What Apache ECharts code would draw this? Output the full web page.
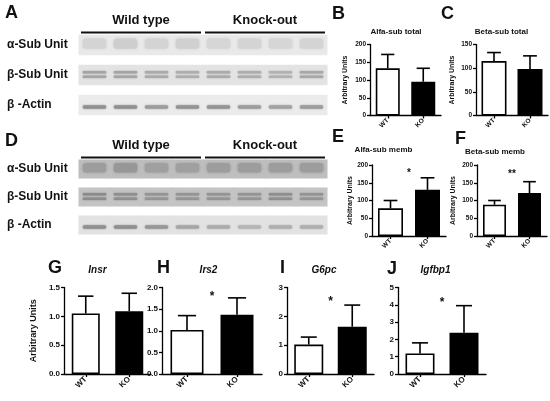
<!DOCTYPE html>
<html><head><meta charset="utf-8">
<script src="https://cdn.jsdelivr.net/npm/echarts@6/dist/echarts.min.js"></script>
<style>html,body{margin:0;padding:0;background:#fff}#c{width:550px;height:401px}</style>
</head><body><div id="c"></div>
<script>
// ---------- data ----------
const groups = ['WT', 'KO'];
const alfaTotalMean = [133, 95];   const alfaTotalSD = [39, 38];
const betaTotalMean = [115, 98];   const betaTotalSD = [18, 28];
const alfaMembMean = [78, 130];    const alfaMembSD = [22, 34];
const betaMembMean = [88, 121];    const betaMembSD = [12, 32];
const insrMean = [1.05, 1.09];     const insrSD = [0.30, 0.31];
const irs2Mean = [1.02, 1.37];     const irs2SD = [0.33, 0.39];
const g6pcMean = [1.02, 1.64];     const g6pcSD = [0.26, 0.75];
const igfbp1Mean = [1.19, 2.38];   const igfbp1SD = [0.61, 1.57];
const starE = 184, starF = 180, starH = 1.84, starI = 2.61, starJ = 4.27;

const lanes = ['1', '2', '3', '4', '5', '6', '7', '8'];
const blotRows = ['α-Sub Unit', 'β-Sub Unit', 'β -Actin'];
const blotGroups = ['Wild type', 'Knock-out'];
const groupFirstLane = [0, 4];
const groupLastLane = [3, 7];
// band darkness per lane (0 = invisible, 1 = black)
const blotA_alpha = [0.14, 0.18, 0.14, 0.17, 0.13, 0.14, 0.13, 0.14];
const blotA_beta  = [0.42, 0.42, 0.38, 0.36, 0.38, 0.36, 0.33, 0.40];
const blotA_actin = [0.60, 0.60, 0.52, 0.58, 0.58, 0.52, 0.48, 0.52];
const blotD_alpha = [0.22, 0.26, 0.20, 0.20, 0.22, 0.22, 0.22, 0.22];
const blotD_beta  = [0.38, 0.36, 0.32, 0.32, 0.33, 0.32, 0.36, 0.32];
const blotD_actin = [0.55, 0.55, 0.50, 0.40, 0.36, 0.30, 0.34, 0.34];

// ---------- build ----------
const FONT = "'Liberation Sans', Arial, sans-serif";
const grids = [], xAxes = [], yAxes = [], series = [];
function gray(v) { v = Math.max(0, Math.min(255, Math.round(v))); const h = v.toString(16).padStart(2, '0'); return '#' + h + h + h; }

function addBlot(left, top, width, height, rows, bgs) {
  const gi = grids.length;
  grids.push({ left, top, width, height, outerBoundsMode: 'none' });
  xAxes.push({ type: 'category', gridIndex: gi, data: lanes, show: false });
  yAxes.push({ type: 'category', gridIndex: gi, data: blotRows, inverse: true,
    axisLine: { show: false }, axisTick: { show: false }, splitLine: { show: false },
    axisLabel: { align: 'left', margin: left - 7, fontSize: 12, fontWeight: 'bold', color: '#111', fontFamily: FONT } });
  const data = [];
  rows.forEach((arr, r) => arr.forEach((v, l) => data.push([l, r, v])));
  series.push({
    type: 'custom', xAxisIndex: gi, yAxisIndex: gi, data, silent: true,
    renderItem(params, api) {
      const l = api.value(0), r = api.value(1), v = api.value(2);
      const c = api.coord([l, r]);
      const lw = api.size([1, 0])[0], rh = api.size([0, 1])[1];
      const sh = rh * 0.68;
      const bg = bgs[r];
      const bc = gray(bg - v * 150);
      const bw = lw * 0.76;
      const ch = [{ type: 'rect', shape: { x: c[0] - lw / 2 - 0.5, y: c[1] - sh / 2, width: lw + 1, height: sh }, style: { fill: gray(bg) } }];
      if (r === 0) {
        ch.push({ type: 'rect', shape: { x: c[0] - bw / 2, y: c[1] - sh * 0.32, width: bw, height: sh * 0.5, r: 3 }, style: { fill: bc, shadowBlur: 3, shadowColor: bc } });
      } else if (r === 1) {
        ch.push({ type: 'rect', shape: { x: c[0] - bw / 2, y: c[1] - 4, width: bw, height: 2.6, r: 1 }, style: { fill: bc, shadowBlur: 2, shadowColor: bc } });
        ch.push({ type: 'rect', shape: { x: c[0] - bw / 2, y: c[1] + 0.5, width: bw, height: 2.6, r: 1 }, style: { fill: bc, shadowBlur: 2, shadowColor: bc } });
      } else {
        ch.push({ type: 'rect', shape: { x: c[0] - bw / 2, y: c[1] + 0.3, width: bw, height: 3.4, r: 1.7 }, style: { fill: bc, shadowBlur: 2, shadowColor: bc } });
      }
      return { type: 'group', children: ch };
    }
  });
  series.push({
    type: 'custom', xAxisIndex: gi, yAxisIndex: gi, silent: true,
    data: blotGroups.map((g, i) => [groupFirstLane[i], groupLastLane[i]]),
    renderItem(params, api) {
      const a = api.coord([api.value(0), 0]), b = api.coord([api.value(1), 0]);
      const lw = api.size([1, 0])[0];
      const y0 = params.coordSys.y;
      const x1 = a[0] - lw / 2 + 2, x2 = b[0] + lw / 2 - 2;
      return { type: 'group', children: [
        { type: 'line', shape: { x1, y1: y0 + 2.5, x2, y2: y0 + 2.5 }, style: { stroke: '#111', lineWidth: 1.8 } },
        { type: 'text', style: { x: (a[0] + b[0]) / 2, y: y0 - 10, text: blotGroups[params.dataIndex], align: 'center', verticalAlign: 'middle', font: 'bold 13px ' + FONT, fill: '#111' } }
      ] };
    }
  });
}

function addBar(cfg) {
  const gi = grids.length;
  grids.push({ left: cfg.left, top: cfg.top, width: cfg.width, height: cfg.height, outerBoundsMode: 'none' });
  const axLine = { color: '#000', width: 1.3 };
  xAxes.push({ type: 'category', gridIndex: gi, data: groups,
    axisLine: { lineStyle: axLine }, axisTick: { show: true, alignWithLabel: true, length: 3, lineStyle: axLine },
    axisLabel: { rotate: 45, fontSize: cfg.xFont, fontWeight: 'bold', color: '#111', margin: 4, fontFamily: FONT } });
  yAxes.push({ type: 'value', gridIndex: gi, min: 0, max: cfg.max, interval: cfg.interval,
    axisLine: { show: true, lineStyle: axLine }, axisTick: { show: true, length: 3, lineStyle: axLine },
    splitLine: { show: false },
    axisLabel: { fontSize: cfg.tickFont, fontWeight: 'bold', color: '#111', margin: 4, fontFamily: FONT, formatter: cfg.fmt },
    name: cfg.yName || '', nameLocation: 'middle', nameGap: cfg.nameGap || 20, nameRotate: 90,
    nameTextStyle: { fontSize: cfg.nameFont || 8, fontWeight: 'bold', color: '#111', fontFamily: FONT } });
  const fills = ['#ffffff', '#000000'];
  series.push({ type: 'bar', xAxisIndex: gi, yAxisIndex: gi, barWidth: cfg.barWidth, silent: true,
    data: cfg.mean.map((v, i) => ({ value: v, itemStyle: { color: fills[i], borderColor: '#000', borderWidth: 1.6 } })) });
  const bw = cfg.barWidth;
  series.push({ type: 'custom', xAxisIndex: gi, yAxisIndex: gi, silent: true, z: 5,
    data: cfg.mean.map((v, i) => [i, v, cfg.sd[i]]),
    renderItem(params, api) {
      const i = api.value(0), m = api.value(1), s = api.value(2);
      const p0 = api.coord([i, m]), p1 = api.coord([i, m + s]);
      const cw = bw * 0.55;
      return { type: 'group', children: [
        { type: 'line', shape: { x1: p0[0], y1: p0[1], x2: p1[0], y2: p1[1] }, style: { stroke: '#000', lineWidth: 1.6 } },
        { type: 'line', shape: { x1: p1[0] - cw / 2, y1: p1[1], x2: p1[0] + cw / 2, y2: p1[1] }, style: { stroke: '#000', lineWidth: 1.6 } }
      ] };
    } });
  if (cfg.star) {
    series.push({ type: 'custom', xAxisIndex: gi, yAxisIndex: gi, silent: true, z: 5,
      data: [[0, cfg.starValue]],
      renderItem(params, api) {
        const v = api.value(1);
        const a = api.coord([0, v]), b = api.coord([1, v]);
        return { type: 'text', style: { x: (a[0] + b[0]) / 2, y: a[1] + cfg.starFont * 0.22, text: cfg.star, align: 'center', verticalAlign: 'middle', font: 'bold ' + cfg.starFont + 'px ' + FONT, fill: '#111' } };
      } });
  }
}

addBlot(79, 30, 248, 90, [blotA_alpha, blotA_beta, blotA_actin], [233, 227, 235]);
addBlot(79, 155, 248, 84, [blotD_alpha, blotD_beta, blotD_actin], [190, 196, 226]);

const small = { tickFont: 6.5, xFont: 6.5, nameFont: 7, height: 71 };
addBar(Object.assign({}, small, { left: 370, top: 44.5, width: 71, barWidth: 24, mean: alfaTotalMean, sd: alfaTotalSD, max: 200, interval: 50, yName: 'Arbitrary Units', nameGap: 21 }));
addBar(Object.assign({}, small, { left: 476, top: 44.5, width: 72, barWidth: 25, mean: betaTotalMean, sd: betaTotalSD, max: 150, interval: 50, yName: 'Arbitrary Units', nameGap: 20 }));
addBar(Object.assign({}, small, { left: 372, top: 165, width: 74, barWidth: 25, mean: alfaMembMean, sd: alfaMembSD, max: 200, interval: 50, yName: 'Arbitrary Units', nameGap: 17, star: '*', starValue: starE, starFont: 10 }));
addBar(Object.assign({}, small, { left: 477, top: 165, width: 70, barWidth: 23, mean: betaMembMean, sd: betaMembSD, max: 200, interval: 50, yName: 'Arbitrary Units', nameGap: 20, star: '**', starValue: starF, starFont: 10 }));
const big = { tickFont: 8, xFont: 8, top: 287.5, height: 86.5, fmt: v => v.toFixed(1) };
addBar(Object.assign({}, big, { left: 64, width: 87, barWidth: 28, mean: insrMean, sd: insrSD, max: 1.5, interval: 0.5, yName: 'Arbitrary Units', nameGap: 26, nameFont: 9 }));
addBar(Object.assign({}, big, { left: 162, width: 100, barWidth: 33, mean: irs2Mean, sd: irs2SD, max: 2, interval: 0.5, star: '*', starValue: starH, starFont: 12 }));
addBar(Object.assign({}, big, { left: 287, width: 87, barWidth: 29, mean: g6pcMean, sd: g6pcSD, max: 3, interval: 1, fmt: v => String(v), star: '*', starValue: starI, starFont: 12 }));
addBar(Object.assign({}, big, { left: 398, width: 88, barWidth: 29, mean: igfbp1Mean, sd: igfbp1SD, max: 5, interval: 1, fmt: v => String(v), star: '*', starValue: starJ, starFont: 12 }));

function txt(x, y, text, font, align) {
  return { type: 'text', x, y, silent: true, style: { text, font: font + ' ' + FONT, fill: '#111', align: align || 'left', verticalAlign: 'middle' } };
}
const graphic = [
  txt(5, 13.5, 'A', 'bold 18px'), txt(332, 14, 'B', 'bold 18px'), txt(441, 14, 'C', 'bold 18px'),
  txt(5, 141.5, 'D', 'bold 18px'), txt(332, 137.5, 'E', 'bold 18px'), txt(455, 139.5, 'F', 'bold 18px'),
  txt(48, 268.5, 'G', 'bold 18px'), txt(157, 268.5, 'H', 'bold 18px'), txt(280, 268.5, 'I', 'bold 18px'), txt(387, 269, 'J', 'bold 18px'),
  txt(396, 31.5, 'Alfa-sub total', 'bold 8px', 'center'),
  txt(501.5, 31.5, 'Beta-sub total', 'bold 8px', 'center'),
  txt(383.5, 150, 'Alfa-sub memb', 'bold 8px', 'center'),
  txt(495, 152, 'Beta-sub memb', 'bold 8px', 'center'),
  txt(97.5, 270, 'Insr', 'italic bold 10px', 'center'),
  txt(208.5, 270, 'Irs2', 'italic bold 10px', 'center'),
  txt(324, 270, 'G6pc', 'italic bold 10px', 'center'),
  txt(435.5, 270, 'Igfbp1', 'italic bold 10px', 'center')
];

const chart = echarts.init(document.getElementById('c'));
chart.setOption({
  backgroundColor: '#fff', animation: false,
  textStyle: { fontFamily: FONT },
  grid: grids, xAxis: xAxes, yAxis: yAxes, series, graphic
});
</script></body></html>
